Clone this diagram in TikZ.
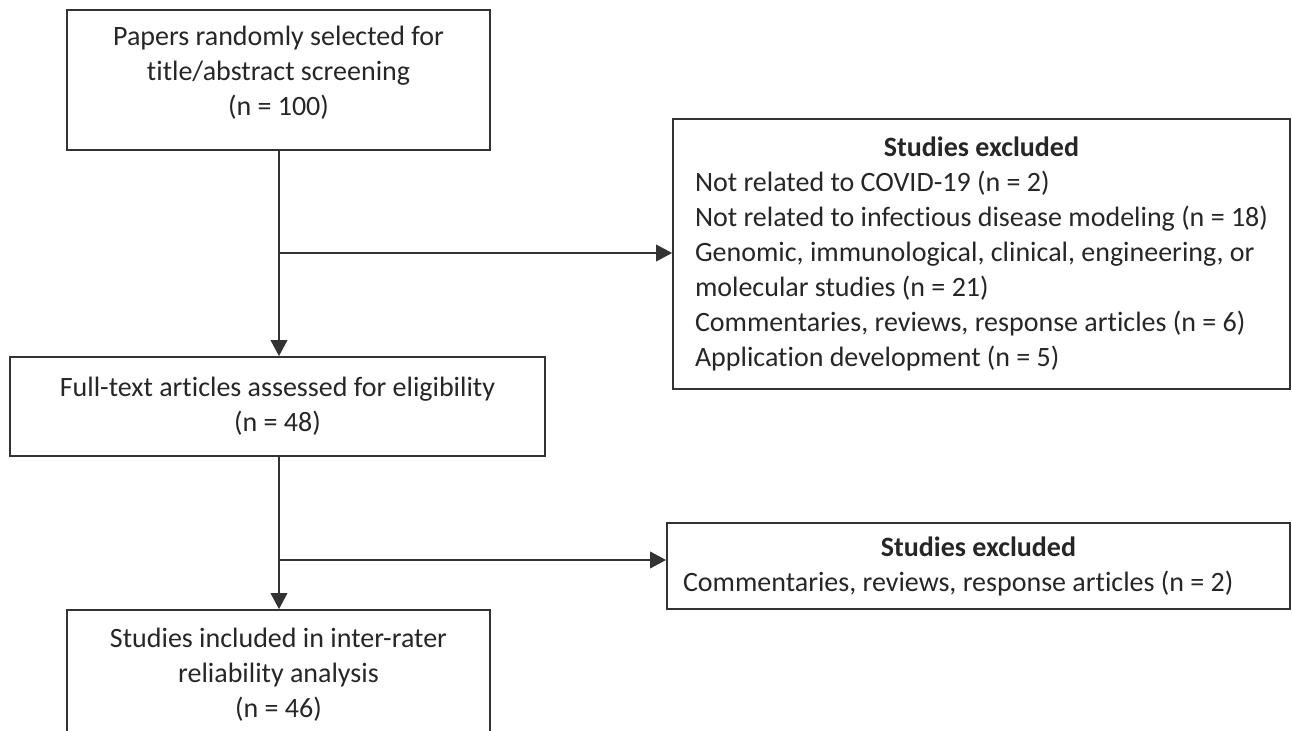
\documentclass[tikz,border=0pt]{standalone}
\usepackage{fontspec}
\setmainfont{Carlito}[Ligatures=NoCommon]
\usetikzlibrary{arrows.meta}

\begin{document}
\begin{tikzpicture}[x=0.75pt, y=-0.75pt,
    every node/.style={font=\fontsize{21pt}{26.25pt}\selectfont, text=black!85},
    box/.style={draw=black!80, line width=1.4pt, align=center, inner sep=0pt},
    exclbox/.style={draw=black!80, line width=1.4pt, align=flush left, inner ysep=0pt},
    arr/.style={draw=black!80, line width=1.4pt, -{Triangle[length=12pt, width=12.5pt]}}]
                % page and clip
                \useasboundingbox (0,0) rectangle (1292,731);
                \clip (0,0) rectangle (1292,731);

                % main column
                \node[box, minimum width=317.25pt, minimum height=105pt, text depth=14pt] (screen) at (278.5,80)
                    {Papers randomly selected for\\title/abstract screening\\(n = 100)};
                \node[box, minimum width=401.25pt, minimum height=74.25pt] (fulltext) at (277.5,406.5)
                    {Full-text articles assessed for eligibility\\(n = 48)};
                \node[box, minimum width=317.25pt, minimum height=97.5pt] (included) at (278.5,675)
                    {Studies included in inter-rater\\reliability analysis\\(n = 46)};

                % excluded boxes
                \node[exclbox, text width=429.75pt, inner xsep=16.5pt, minimum height=202.5pt] (excl1) at (981.5,254)
                    {\makebox[\linewidth]{\textbf{Studies excluded}}\\
                     \mbox{Not related to COVID-19 (n = 2)}\\
                     \mbox{Not related to infectious disease modeling (n = 18)}\\
                     \mbox{Genomic, immunological, clinical, engineering, or}\\
                     \mbox{molecular studies (n = 21)}\\
                     \mbox{Commentaries, reviews, response articles (n = 6)}\\
                     \mbox{Application development (n = 5)}};
                \node[exclbox, text width=443.25pt, inner xsep=12pt, minimum height=64.5pt] (excl2) at (978.5,566)
                    {\makebox[\linewidth]{\textbf{Studies excluded}}\\
                     \mbox{Commentaries, reviews, response articles (n = 2)}};

                % connectors
                \coordinate (split1) at (279,253);
                \coordinate (split2) at (279,560);
                \draw[arr] (screen.south -| split1) -- (fulltext.north -| split1);
                \draw[arr] (split1) -- (split1 -| excl1.west);
                \draw[arr] (fulltext.south -| split2) -- (included.north -| split2);
                \draw[arr] (split2) -- (split2 -| excl2.west);

            \end{tikzpicture}
\end{document}
